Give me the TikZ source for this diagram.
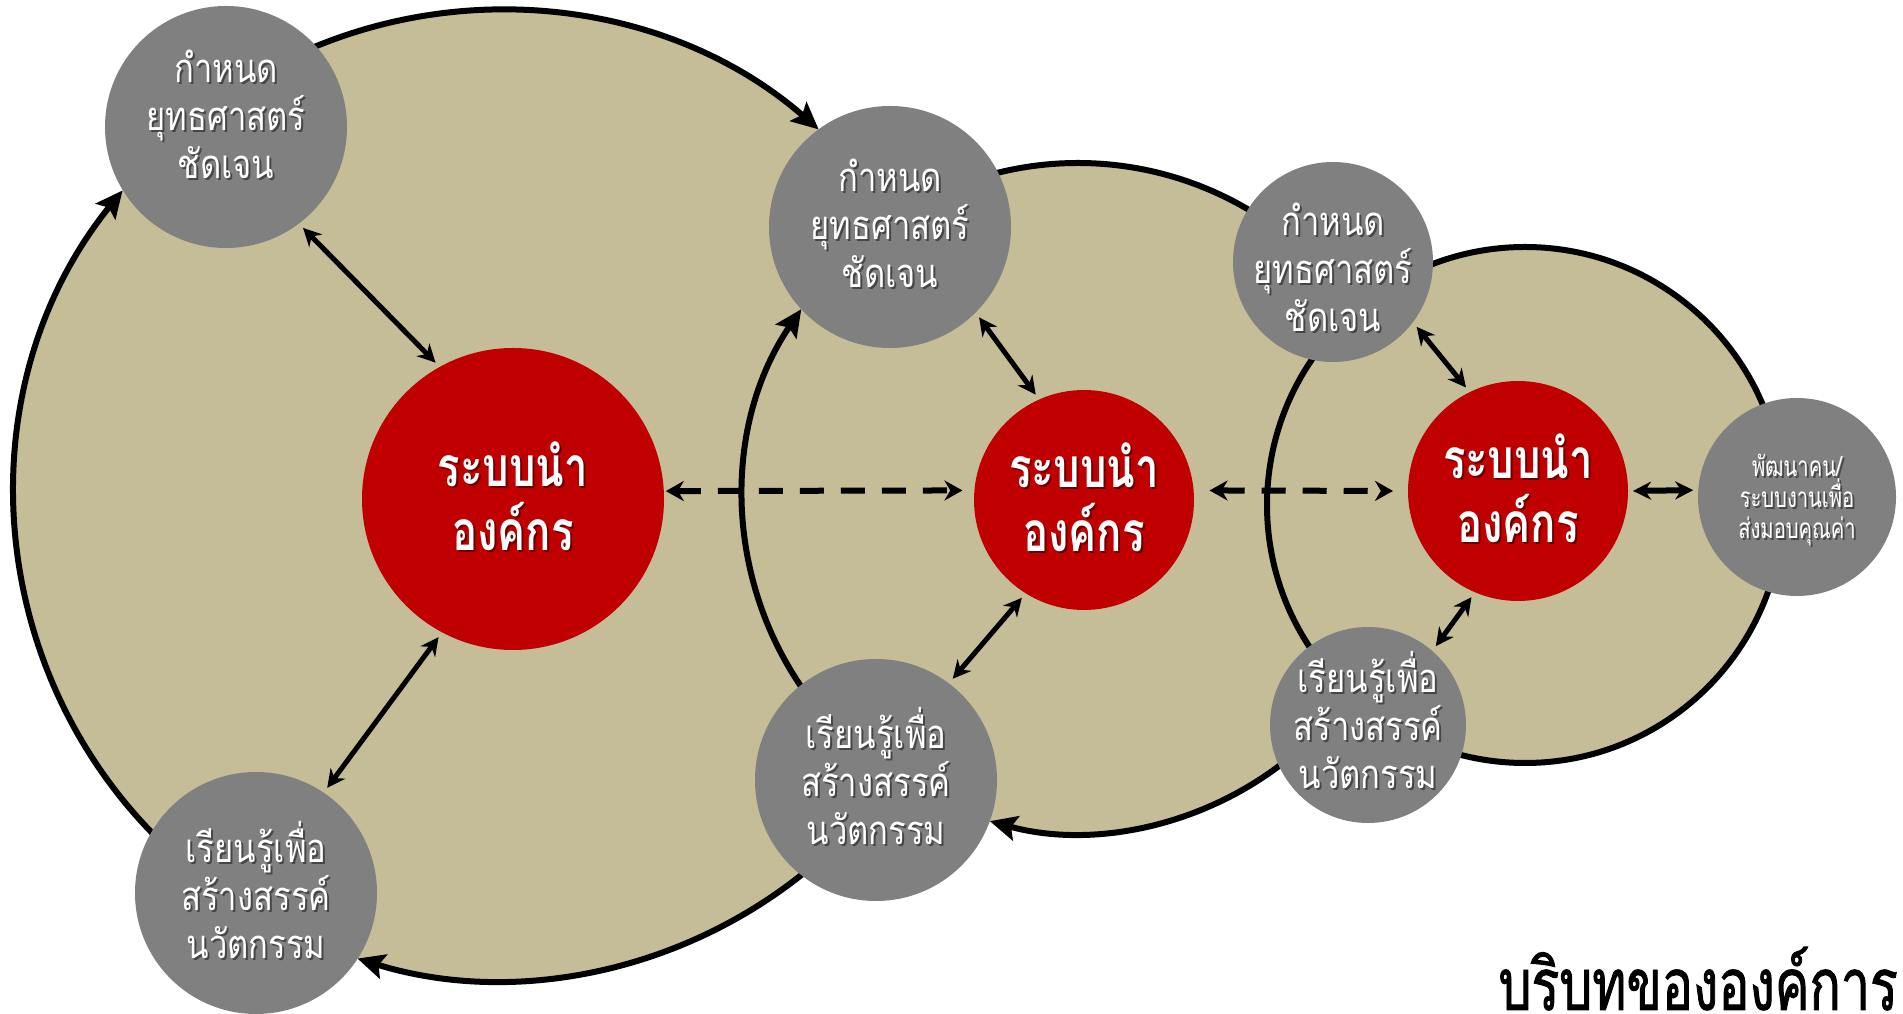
\documentclass[tikz,border=0pt]{standalone}
\usepackage{fontspec}
\newfontfamily\thai[Script=Thai,FakeStretch=0.82]{Loma}
\newfontfamily\thaihead[Script=Thai,FakeStretch=0.76]{Loma}
\newfontfamily\thainarrow[Script=Thai,FakeStretch=0.72]{Loma}
\newfontfamily\thaititle[Script=Thai,FakeStretch=0.72,FakeBold=1.2]{Loma}
\usetikzlibrary{arrows.meta}
\definecolor{ringfill}{HTML}{C4BD97}
\definecolor{hubgray}{HTML}{808080}
\definecolor{corered}{HTML}{C00000}
\begin{document}
\begin{tikzpicture}[x=1pt,y=1pt,
  rim/.style={line width=6pt,draw=black},
  rimarrow/.style={rim,-{Stealth[length=27pt,width=25pt,inset=5pt]}},
  hub/.style={circle,fill=hubgray,inner sep=0pt,outer sep=0pt},
  hubtext/.style={text=white,align=center,inner sep=0pt,font=\thai\fontsize{40}{48}\selectfont},
  % white caption with a soft drop shadow behind it
  hubcap/.style n args={3}{
    label={[hubtext,#3,text=black,opacity=0.45,xshift=2pt,yshift={#1-2pt}]center:{#2}},
    label={[hubtext,#3,yshift=#1]center:{#2}}},
  core/.style={circle,fill=corered,inner sep=0pt,outer sep=0pt},
  coretext/.style={text=white,align=center,inner sep=0pt,font=\thaihead\bfseries\fontsize{55}{64}\selectfont},
  corecap/.style={
    label={[coretext,text=black,opacity=0.45,xshift=2pt,yshift=1pt]center:{ระบบนำ\\องค์กร}},
    label={[coretext,yshift=3pt]center:{ระบบนำ\\องค์กร}}},
  link/.style={line width=5pt,{Stealth[length=18pt,width=18pt]}-{Stealth[length=18pt,width=18pt]},
    shorten >=6pt,shorten <=6pt},
  dlink/.style={line width=6pt,dash pattern=on 24pt off 17pt,
    {Stealth[length=18pt,width=20pt]}-{Stealth[length=18pt,width=20pt]}}]
\useasboundingbox (0,0) rectangle (1903,1014);
\fill[white] (0,0) rectangle (1903,1014);

% ring centres
\coordinate (c1) at (500,519);
\coordinate (c2) at (1078,516);
\coordinate (c3) at (1525,509);

% outer ring
\fill[ringfill] (c1) circle[radius=485];
\draw[rimarrow] ([shift={(225:485)}]c1) arc[start angle=225,end angle=141.1,radius=485];
\draw[rimarrow] ([shift={(113.5:485)}]c1) arc[start angle=113.5,end angle=48.92,radius=485];
\draw[rimarrow] ([shift={(309.5:485)}]c1) arc[start angle=309.5,end angle=252.91,radius=485];

% middle ring
\fill[ringfill] (c2) circle[radius=335];
\draw[rimarrow] ([shift={(215:335)}]c2) arc[start angle=215,end angle=145.69,radius=335];
\draw[rim] ([shift={(105:335)}]c2) arc[start angle=105,end angle=58,radius=335];
\draw[rimarrow] ([shift={(308:335)}]c2) arc[start angle=308,end angle=254.74,radius=335];

% inner ring
\draw[rim,fill=ringfill] (c3) circle[radius=258];

% strategy hubs
\node[hub,minimum size=242pt,hubcap={13pt}{กำหนด\\ยุทธศาสตร์\\ชัดเจน}{}] (g1) at (226,887) {};
\node[hub,minimum size=242pt,hubcap={4pt}{กำหนด\\ยุทธศาสตร์\\ชัดเจน}{}] (g2) at (890,787) {};
\node[hub,minimum size=200pt,hubcap={-5pt}{กำหนด\\ยุทธศาสตร์\\ชัดเจน}{}] (g3) at (1333,752) {};
% learning hubs
\node[hub,minimum size=242pt,hubcap={3pt}{เรียนรู้เพื่อ\\สร้างสรรค์\\นวัตกรรม}{}] (g5) at (256,121) {};
\node[hub,minimum size=242pt,hubcap={4pt}{เรียนรู้เพื่อ\\สร้างสรรค์\\นวัตกรรม}{}] (g6) at (876,234) {};
\node[hub,minimum size=196pt,hubcap={5pt}{เรียนรู้เพื่อ\\สร้างสรรค์\\นวัตกรรม}{}] (g7) at (1368,289) {};
% value delivery hub
\node[hub,minimum size=198pt,hubcap={-3pt}{พัฒนาคน/\\ระบบงานเพื่อ\\ส่งมอบคุณค่า}{font=\thainarrow\fontsize{28}{31}\selectfont}] (g4) at (1797,517) {};

% leadership cores
\node[core,minimum size=302pt,corecap] (red1) at (513,515) {};
\node[core,minimum size=220pt,corecap] (red2) at (1084,514) {};
\node[core,minimum size=220pt,corecap] (red3) at (1518,523) {};

% links between cores and hubs
\draw[link] (g1.-53) -- (red1.119);
\draw[link] (red1.-118) -- (g5.56);
\draw[link] (g2.-45) -- (red2.114);
\draw[link] (red2.-122) -- (g6.53);
\draw[link] (g3.-37) -- (red3.116);
\draw[link] (red3.-113) -- (g7.49);
\draw[link,line width=6pt,shorten >=5pt,shorten <=5pt] (red3.0) -- (g4.176);

% links between cores
\draw[dlink,shorten <=2pt,shorten >=12pt] (red1.3) -- (red2.175);
\draw[dlink,shorten <=16pt,shorten >=15pt] (red2.5) -- (red3.180);

% caption
\node[anchor=base east,inner sep=0pt,font=\thaititle\fontsize{72}{80}\selectfont] (cap) at (1898,4) {บริบทขององค์การ};
\end{tikzpicture}
\end{document}
